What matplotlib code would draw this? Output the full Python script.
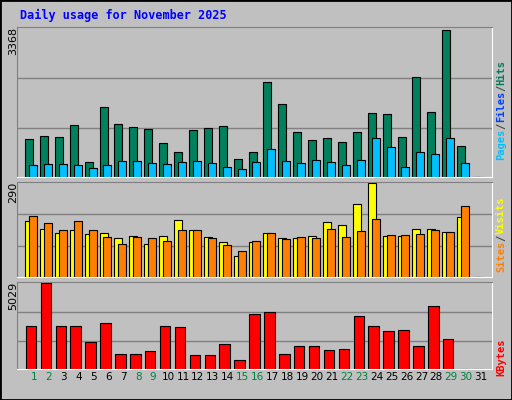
import matplotlib
matplotlib.use("Agg")
import matplotlib.pyplot as plt
import numpy as np

days = list(range(1, 32))
hits_px = [38,41,40,52,15,70,53,50,48,34,25,47,49,51,18,25,95,73,45,37,39,35,45,64,63,40,100,65,147,31,0]
pages_px = [12,13,13,12,9,12,16,16,14,13,15,16,14,10,8,15,28,16,14,17,15,12,17,39,30,10,25,23,39,14,0]
hits = [round(v/148*3368) for v in hits_px]
pages = [round(v/148*3368) for v in pages_px]
visits_top = [221,229,233,230,234,233,238,236,244,236,220,230,237,242,255,242,233,238,238,236,222,225,205,184,236,236,229,229,232,217,276]
sites_top = [216,223,230,221,230,237,244,237,238,241,230,230,238,245,251,241,233,239,237,238,229,237,231,219,235,235,234,230,232,207,276]
visits = [round((276-t)/92*290) for t in visits_top]
sites = [round((276-t)/92*290) for t in sites_top]
kb_top = [326,284,326,326,342,323,353,353,350,326,327,354,354,344,359,314,312,353,346,346,349,348,316,326,331,330,346,306,339,368,368]
kbytes = [round((368-t)/83*5029) for t in kb_top]
weekend = {1,2,8,9,15,16,22,23,29,30}
title = "Daily usage for November 2025"

W, H = 512, 400
fig = plt.figure(figsize=(W/100, H/100), dpi=100, facecolor="#C0C0C0")
mono = "DejaVu Sans Mono"

def mkax(top, bot):
    ax = fig.add_axes([17/W, 1-bot/H, (492-17)/W, (bot-top)/H])
    ax.set_facecolor("#C0C0C0")
    ax.set_xlim(-0.14, 31.74)
    ax.set_xticks([]); ax.set_yticks([])
    for s, c in zip(["top","left","bottom","right"], ["#808080","#808080","white","white"]):
        ax.spines[s].set_color(c)
    return ax

x = np.array(days)
ax1 = mkax(27, 177)
ax1.set_ylim(0, 3368*150/148)
for f in (1/3, 2/3):
    ax1.axhline(3368*f, color="#808080", lw=1, zorder=0)
ax1.bar(x-0.6, hits, width=0.54, align="edge", color="#00805C", edgecolor="black", lw=0.8)
ax1.bar(x-0.34, pages, width=0.54, align="edge", color="#00C0FF", edgecolor="black", lw=0.8)

ax2 = mkax(182, 277)
ax2.set_ylim(0, 290*93/92)
for f in (1/3, 2/3):
    ax2.axhline(290*f, color="#808080", lw=1, zorder=0)
ax2.bar(x-0.6, visits, width=0.54, align="edge", color="#FFFF00", edgecolor="black", lw=0.8)
ax2.bar(x-0.34, sites, width=0.54, align="edge", color="#FF8000", edgecolor="black", lw=0.8)

ax3 = mkax(282, 369)
ax3.set_ylim(0, 5029*85/83)
for f in (1/3, 2/3):
    ax3.axhline(5029*f, color="#808080", lw=1, zorder=0)
ax3.bar(x-0.55, kbytes, width=0.7, align="edge", color="#FF0000", edgecolor="black", lw=0.8)

for d in days:
    ax3.text(d, -0.03, str(d), transform=ax3.get_xaxis_transform(), ha="center", va="top",
             fontsize=7.5, color="#008040" if d in weekend else "black")

fig.text(20/W, 1-15/H, title, color="#0000FF", fontsize=8.5, fontweight="bold", family=mono, va="center")
for ytop, lab in [(27, "3368"), (182, "290"), (282, "5029")]:
    fig.text(8/W, 1-ytop/H, lab, rotation=90, fontsize=8, va="top", ha="left")

def vlabel(parts, ybot, fs=7.5):
    y = ybot
    step = fs * 0.602 * 100 / 72
    for t, c in parts:
        fig.text(496/W, 1-y/H, t, rotation=90, color=c, fontsize=fs, family=mono,
                 ha="left", va="bottom", fontweight="bold")
        y -= len(t) * step
vlabel([("Pages", "#00C0FF"), ("/", "#404040"), ("Files", "#0040FF"), ("/", "#404040"), ("Hits", "#00805C")], 160)
vlabel([("Sites", "#FF8000"), ("/", "#404040"), ("Visits", "#FFFF00")], 272)
vlabel([("KBytes", "#FF0000")], 376)

fig.add_artist(plt.Rectangle((0, 0), 1, 1, transform=fig.transFigure, fill=False, ec="black", lw=2))
fig.savefig("out.png", dpi=100, facecolor="#C0C0C0")
